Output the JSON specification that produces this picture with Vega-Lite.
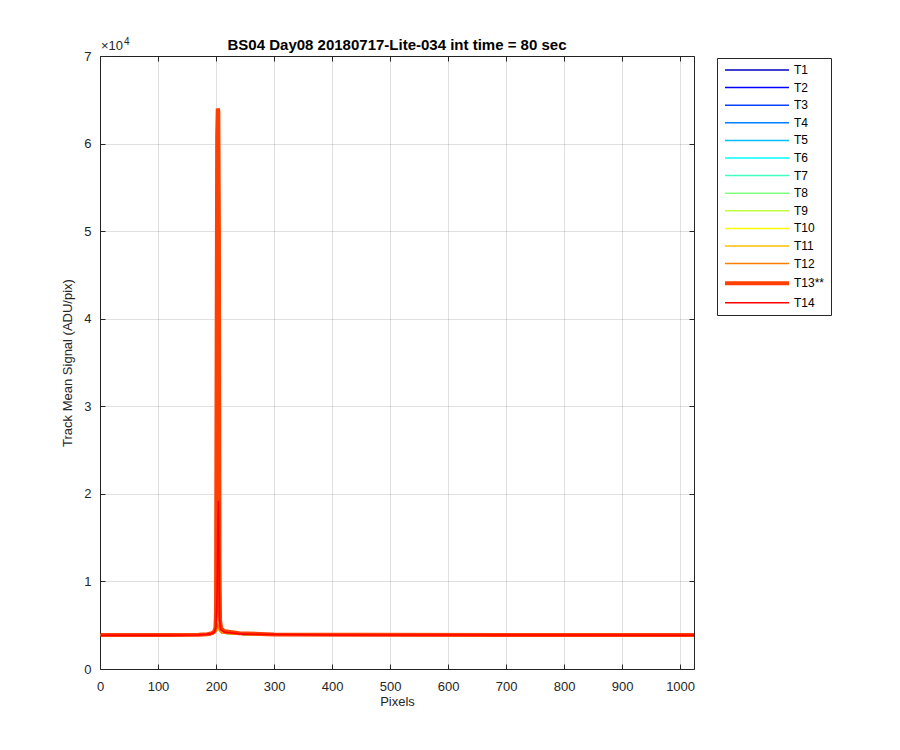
{
  "$schema": "https://vega.github.io/schema/vega-lite/v6.json",
  "width": 594,
  "height": 613,
  "autosize": {"type": "none"},
  "padding": {"left": 100, "top": 56, "right": 206, "bottom": 81},
  "background": "white",
  "config": {
    "font": "Liberation Sans",
    "view": {"stroke": "#262626", "strokeWidth": 1},
    "axis": {"labelFont": "Liberation Sans", "titleFont": "Liberation Sans", "labelColor": "#262626", "titleColor": "#262626", "labelFontSize": 13, "titleFontSize": 13, "titleFontWeight": "normal", "labelFlush": false}
  },
  "title": {"text": "BS04 Day08 20180717-Lite-034 int time = 80 sec", "fontSize": 15, "fontWeight": "bold", "font": "Liberation Sans", "color": "black", "offset": 7, "dy": 23, "anchor": "middle"},
  "data": {"values": [
    {"s":"T1","x":1,"y":3860},{"s":"T1","x":100,"y":3865},{"s":"T1","x":180,"y":3890},{"s":"T1","x":195,"y":3980},{"s":"T1","x":200,"y":4300},{"s":"T1","x":203,"y":4700},{"s":"T1","x":206,"y":4400},{"s":"T1","x":210,"y":4100},{"s":"T1","x":250,"y":3930},{"s":"T1","x":500,"y":3880},{"s":"T1","x":1024,"y":3860},
    {"s":"T2","x":1,"y":3860},{"s":"T2","x":100,"y":3865},{"s":"T2","x":180,"y":3890},{"s":"T2","x":195,"y":3980},{"s":"T2","x":200,"y":4300},{"s":"T2","x":203,"y":4700},{"s":"T2","x":206,"y":4400},{"s":"T2","x":210,"y":4100},{"s":"T2","x":250,"y":3930},{"s":"T2","x":500,"y":3880},{"s":"T2","x":1024,"y":3860},
    {"s":"T3","x":1,"y":3860},{"s":"T3","x":100,"y":3865},{"s":"T3","x":180,"y":3890},{"s":"T3","x":195,"y":3980},{"s":"T3","x":200,"y":4300},{"s":"T3","x":203,"y":4700},{"s":"T3","x":206,"y":4400},{"s":"T3","x":210,"y":4100},{"s":"T3","x":250,"y":3930},{"s":"T3","x":500,"y":3880},{"s":"T3","x":1024,"y":3860},
    {"s":"T4","x":1,"y":3860},{"s":"T4","x":100,"y":3865},{"s":"T4","x":180,"y":3890},{"s":"T4","x":195,"y":3980},{"s":"T4","x":200,"y":4300},{"s":"T4","x":203,"y":4700},{"s":"T4","x":206,"y":4400},{"s":"T4","x":210,"y":4100},{"s":"T4","x":250,"y":3930},{"s":"T4","x":500,"y":3880},{"s":"T4","x":1024,"y":3860},
    {"s":"T5","x":1,"y":3860},{"s":"T5","x":100,"y":3865},{"s":"T5","x":180,"y":3890},{"s":"T5","x":195,"y":3980},{"s":"T5","x":200,"y":4300},{"s":"T5","x":203,"y":4700},{"s":"T5","x":206,"y":4400},{"s":"T5","x":210,"y":4100},{"s":"T5","x":250,"y":3930},{"s":"T5","x":500,"y":3880},{"s":"T5","x":1024,"y":3860},
    {"s":"T6","x":1,"y":3860},{"s":"T6","x":100,"y":3865},{"s":"T6","x":180,"y":3890},{"s":"T6","x":195,"y":3980},{"s":"T6","x":200,"y":4300},{"s":"T6","x":203,"y":4700},{"s":"T6","x":206,"y":4400},{"s":"T6","x":210,"y":4100},{"s":"T6","x":250,"y":3930},{"s":"T6","x":500,"y":3880},{"s":"T6","x":1024,"y":3860},
    {"s":"T7","x":1,"y":3860},{"s":"T7","x":100,"y":3865},{"s":"T7","x":180,"y":3890},{"s":"T7","x":195,"y":3980},{"s":"T7","x":200,"y":4300},{"s":"T7","x":203,"y":4700},{"s":"T7","x":206,"y":4400},{"s":"T7","x":210,"y":4100},{"s":"T7","x":250,"y":3930},{"s":"T7","x":500,"y":3880},{"s":"T7","x":1024,"y":3860},
    {"s":"T8","x":1,"y":3860},{"s":"T8","x":100,"y":3865},{"s":"T8","x":180,"y":3890},{"s":"T8","x":195,"y":3980},{"s":"T8","x":200,"y":4300},{"s":"T8","x":203,"y":4700},{"s":"T8","x":206,"y":4400},{"s":"T8","x":210,"y":4100},{"s":"T8","x":250,"y":3930},{"s":"T8","x":500,"y":3880},{"s":"T8","x":1024,"y":3860},
    {"s":"T9","x":1,"y":3860},{"s":"T9","x":100,"y":3865},{"s":"T9","x":180,"y":3890},{"s":"T9","x":195,"y":3980},{"s":"T9","x":200,"y":4300},{"s":"T9","x":203,"y":4700},{"s":"T9","x":206,"y":4400},{"s":"T9","x":210,"y":4100},{"s":"T9","x":250,"y":3930},{"s":"T9","x":500,"y":3880},{"s":"T9","x":1024,"y":3860},
    {"s":"T10","x":1,"y":3860},{"s":"T10","x":100,"y":3865},{"s":"T10","x":180,"y":3890},{"s":"T10","x":195,"y":3980},{"s":"T10","x":200,"y":4300},{"s":"T10","x":203,"y":4900},{"s":"T10","x":206,"y":4400},{"s":"T10","x":210,"y":4100},{"s":"T10","x":250,"y":3930},{"s":"T10","x":500,"y":3880},{"s":"T10","x":1024,"y":3860},
    {"s":"T11","x":1,"y":3860},{"s":"T11","x":100,"y":3865},{"s":"T11","x":180,"y":3890},{"s":"T11","x":195,"y":3980},{"s":"T11","x":200,"y":4300},{"s":"T11","x":203,"y":5000},{"s":"T11","x":206,"y":4400},{"s":"T11","x":210,"y":4100},{"s":"T11","x":250,"y":3930},{"s":"T11","x":500,"y":3880},{"s":"T11","x":1024,"y":3860},
    {"s":"T12","x":1,"y":3860},{"s":"T12","x":100,"y":3865},{"s":"T12","x":180,"y":3890},{"s":"T12","x":195,"y":3980},{"s":"T12","x":200,"y":4300},{"s":"T12","x":203,"y":5200},{"s":"T12","x":206,"y":4400},{"s":"T12","x":210,"y":4100},{"s":"T12","x":250,"y":3930},{"s":"T12","x":500,"y":3880},{"s":"T12","x":1024,"y":3860},
    {"s":"T13","x":1,"y":3870},{"s":"T13","x":60,"y":3870},{"s":"T13","x":120,"y":3880},{"s":"T13","x":170,"y":3900},{"s":"T13","x":185,"y":3960},{"s":"T13","x":193,"y":4080},{"s":"T13","x":197,"y":4300},{"s":"T13","x":199,"y":4700},{"s":"T13","x":200,"y":6500},{"s":"T13","x":201,"y":35000},{"s":"T13","x":202,"y":61000},{"s":"T13","x":203,"y":64000},{"s":"T13","x":204,"y":63700},{"s":"T13","x":205,"y":50000},{"s":"T13","x":206,"y":12000},{"s":"T13","x":207,"y":5500},{"s":"T13","x":209,"y":4600},{"s":"T13","x":215,"y":4300},{"s":"T13","x":240,"y":4080},{"s":"T13","x":300,"y":3950},{"s":"T13","x":450,"y":3900},{"s":"T13","x":700,"y":3880},{"s":"T13","x":1024,"y":3870},
    {"s":"T14","x":1,"y":3860},{"s":"T14","x":100,"y":3865},{"s":"T14","x":170,"y":3890},{"s":"T14","x":190,"y":3990},{"s":"T14","x":197,"y":4200},{"s":"T14","x":200,"y":4800},{"s":"T14","x":202,"y":9000},{"s":"T14","x":203,"y":16000},{"s":"T14","x":204,"y":19200},{"s":"T14","x":205,"y":14000},{"s":"T14","x":206,"y":6000},{"s":"T14","x":208,"y":4500},{"s":"T14","x":215,"y":4200},{"s":"T14","x":250,"y":3980},{"s":"T14","x":400,"y":3890},{"s":"T14","x":1024,"y":3860}
  ]},
  "layer": [
    {
      "mark": {"type": "line", "clip": true},
      "encoding": {
        "x": {"field": "x", "type": "quantitative", "scale": {"domain": [0, 1024], "nice": false, "zero": false},
          "axis": {"title": "Pixels", "format": "d", "values": [0,100,200,300,400,500,600,700,800,900,1000], "grid": true, "gridColor": "#000000", "gridOpacity": 0.12, "domain": false, "tickSize": -5, "tickColor": "#262626", "labelPadding": 16, "titlePadding": 2, "labelOverlap": false}},
        "y": {"field": "y", "type": "quantitative", "scale": {"domain": [0, 70000], "nice": false},
          "axis": {"title": "Track Mean Signal (ADU/pix)", "values": [0,10000,20000,30000,40000,50000,60000,70000], "labelExpr": "datum.value / 10000", "grid": true, "gridColor": "#000000", "gridOpacity": 0.12, "domain": false, "tickSize": -5, "tickColor": "#262626", "labelPadding": 14, "titlePadding": 9}},
        "color": {"field": "s", "type": "ordinal",
          "scale": {"domain": ["T1","T2","T3","T4","T5","T6","T7","T8","T9","T10","T11","T12","T13","T14"],
            "range": ["#0000BF","#0000FF","#0040FF","#0080FF","#00BFFF","#00FFFF","#40FFBF","#80FF80","#BFFF40","#FFFF00","#FFBF00","#FF8000","#FF4000","#FF0000"]},
          "legend": {"title": null, "orient": "none", "legendX": 617, "legendY": 2, "labelExpr": "datum.label == 'T13' ? 'T13**' : datum.label", "symbolType": "M-1,0H11.8", "symbolSize": 100, "labelOffset": 57, "labelFontSize": 12, "labelFont": "Liberation Sans", "labelColor": "black", "rowPadding": 5.6, "padding": 6, "strokeColor": "#262626", "fillColor": "white", "symbolStrokeWidth": 2}},
        "strokeWidth": {"field": "s", "type": "ordinal",
          "scale": {"type": "ordinal", "domain": ["T1","T2","T3","T4","T5","T6","T7","T8","T9","T10","T11","T12","T13","T14"],
            "range": [1.5,1.5,1.5,1.5,1.5,1.5,1.5,1.5,1.5,1.5,1.5,1.5,4,1.5]},
          "legend": {"title": null}}
      }
    },
    {
      "data": {"values": [{"label": "×10"}]},
      "mark": {"type": "text", "align": "left", "baseline": "bottom", "dy": -3, "dx": 1, "fontSize": 13, "font": "Liberation Sans", "color": "#262626"},
      "encoding": {
        "text": {"field": "label"},
        "x": {"datum": 0, "type": "quantitative", "axis": {"orient": "top", "labels": false, "title": null, "grid": false, "domain": false, "tickSize": -5, "tickColor": "#262626", "values": [0,100,200,300,400,500,600,700,800,900,1000]}},
        "y": {"datum": 70000, "type": "quantitative", "axis": {"orient": "right", "labels": false, "title": null, "grid": false, "domain": false, "tickSize": -5, "tickColor": "#262626", "values": [0,10000,20000,30000,40000,50000,60000,70000]}}
      }
    },
    {
      "data": {"values": [{"label": "4"}]},
      "mark": {"type": "text", "align": "left", "baseline": "bottom", "dy": -9, "dx": 24, "fontSize": 10, "font": "Liberation Sans", "color": "#262626"},
      "encoding": {
        "text": {"field": "label"},
        "x": {"datum": 0, "type": "quantitative", "axis": null},
        "y": {"datum": 70000, "type": "quantitative", "axis": null}
      }
    }
  ],
  "resolve": {"axis": {"x": "independent", "y": "independent"}}
}
